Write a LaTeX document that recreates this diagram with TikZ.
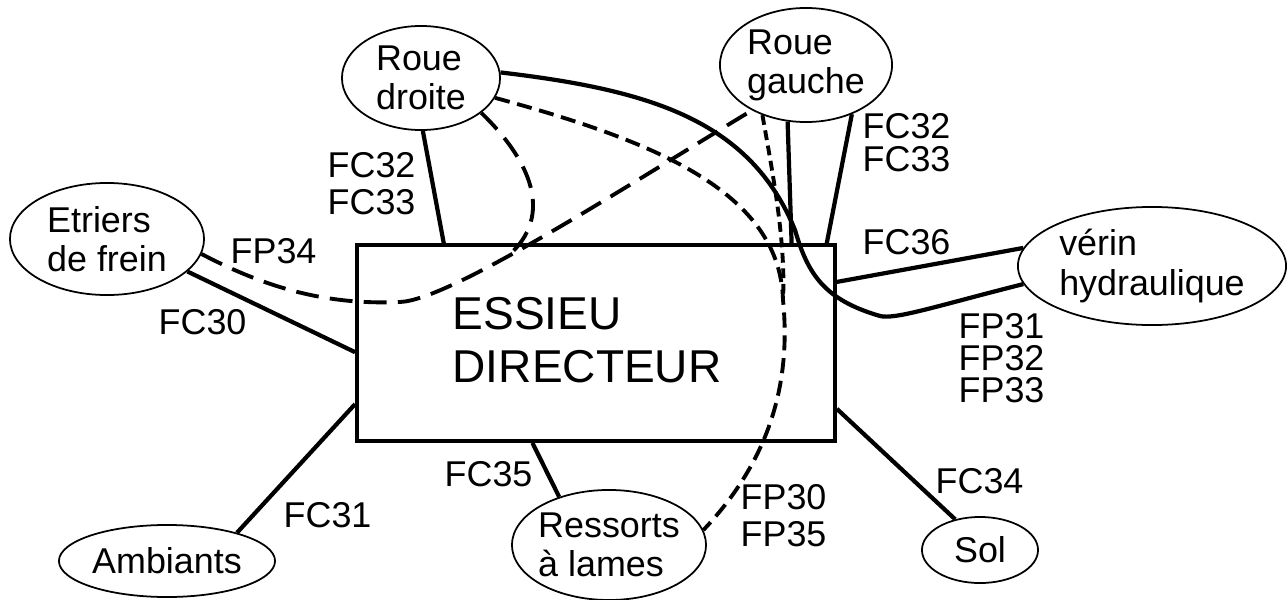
\documentclass[tikz,border=0pt]{standalone}
\usepackage{fontspec}
\setmainfont{Liberation Sans}
\usetikzlibrary{calc,shapes.geometric}
\newcommand\labfont{\fontsize{10.2pt}{11.1pt}\selectfont}
\newcommand\essfont{\fontsize{13.1pt}{15.1pt}\selectfont}
\begin{document}
\begin{tikzpicture}[x=0.01cm,y=-0.01cm,
  ell/.style={draw,ellipse,line width=0.5pt,inner xsep=-0.1cm,inner ysep=0pt,align=left,font=\labfont},
  lbl/.style={anchor=base west,inner sep=0pt,font=\labfont},
  conn/.style={line width=1.2pt},
  dashlong/.style={line width=1.1pt,dash pattern=on 6.5pt off 3.2pt},
  dashmed/.style={line width=1.1pt,dash pattern=on 4.3pt off 2.2pt},
  dashshort/.style={line width=1.1pt,dash pattern=on 2.8pt off 1.6pt}]
\useasboundingbox (0,0) rectangle (1287,600);

% nodes
\node[ell,minimum width=1.58cm,minimum height=1.04cm] (rd) at (421,78) {Roue\\droite};
\node[ell,minimum width=1.72cm,minimum height=1.14cm] (rg) at (806,65) {Roue\\gauche};
\node[ell,minimum width=1.94cm,minimum height=1.12cm] (et) at (107,239) {Etriers\\de frein};
\node[ell,minimum width=2.68cm,minimum height=1.18cm] (ve) at (1152,266) {vérin\\hydraulique};
\node[ell,minimum width=2.16cm,minimum height=0.72cm] (am) at (167,561) {Ambiants};
\node[ell,minimum width=1.94cm,minimum height=1.10cm] (rs) at (609,545) {Ressorts\\à lames};
\node[ell,minimum width=1.16cm,minimum height=0.66cm] (so) at (980,550) {Sol};

\node[draw,line width=1pt,minimum width=4.78cm,minimum height=1.96cm,inner sep=0pt] (box) at (596,343) {};
\node[anchor=west,inner sep=0pt,align=left,font=\essfont] (ess) at (452,340) {ESSIEU\\DIRECTEUR};

% solid connectors
\draw[conn] (rd.-88) -- ($(box.north west)!0.184!(box.north east)$);
\draw[conn] (et.-22) -- ($(box.north west)!0.546!(box.south west)$);
\draw[conn] (am.22) -- ($(box.north west)!0.806!(box.south west)$);
\draw[conn] (rs.136) -- ($(box.south west)!0.368!(box.south east)$);
\draw[conn] ($(box.north east)!0.83!(box.south east)$) -- (so.129);
\draw[conn] ($(box.north east)!0.194!(box.south east)$) -- (ve.172);
\draw[conn] (rg.252) -- ($(box.north west)!0.906!(box.north east)$);
\draw[conn] (rg.-47.5) -- ($(box.north west)!0.979!(box.north east)$);
\draw[conn] (rd.4) .. controls (650,90) and (750,120) .. (795,230)
  .. controls (808,275) and (825,300) .. (880,316)
  .. controls (895,320) and (940,305) .. (ve.188);

% dashed connectors
\coordinate (jn) at (508,256);
\draw[dashlong] (et.-9) .. controls (270,290) and (330,305) .. (400,302)
  .. controls (450,300) and (620,190) .. (rg.220);
\draw[dashlong] (rd.-30) .. controls (530,160) and (555,215) .. (jn);
\draw[dashmed] (rd.-15) .. controls (650,140) and (780,190) .. (783,300) coordinate (cj)
  .. controls (792,390) and (765,465) .. (rs.9);
\draw[dashshort] (rg.229) .. controls (772,170) and (786,240) .. (cj);

% labels
\node[lbl] (fc32a) at (327,177) {FC32};
\node[lbl] (fc33a) at (327,214) {FC33};
\node[lbl] (fc32b) at (862,139) {FC32};
\node[lbl] (fc33b) at (862,171) {FC33};
\node[lbl] (fp34) at (230,263) {FP34};
\node[lbl] (fc30) at (158,334) {FC30};
\node[lbl] (fc36) at (862,254) {FC36};
\node[lbl] (fp31) at (958,338) {FP31};
\node[lbl] (fp32) at (958,370) {FP32};
\node[lbl] (fp33) at (958,402) {FP33};
\node[lbl] (fc35) at (444,486) {FC35};
\node[lbl] (fc31) at (283,527) {FC31};
\node[lbl] (fp30) at (740,509) {FP30};
\node[lbl] (fp35) at (740,546) {FP35};
\node[lbl] (fc34) at (935,493) {FC34};
\end{tikzpicture}
\end{document}
